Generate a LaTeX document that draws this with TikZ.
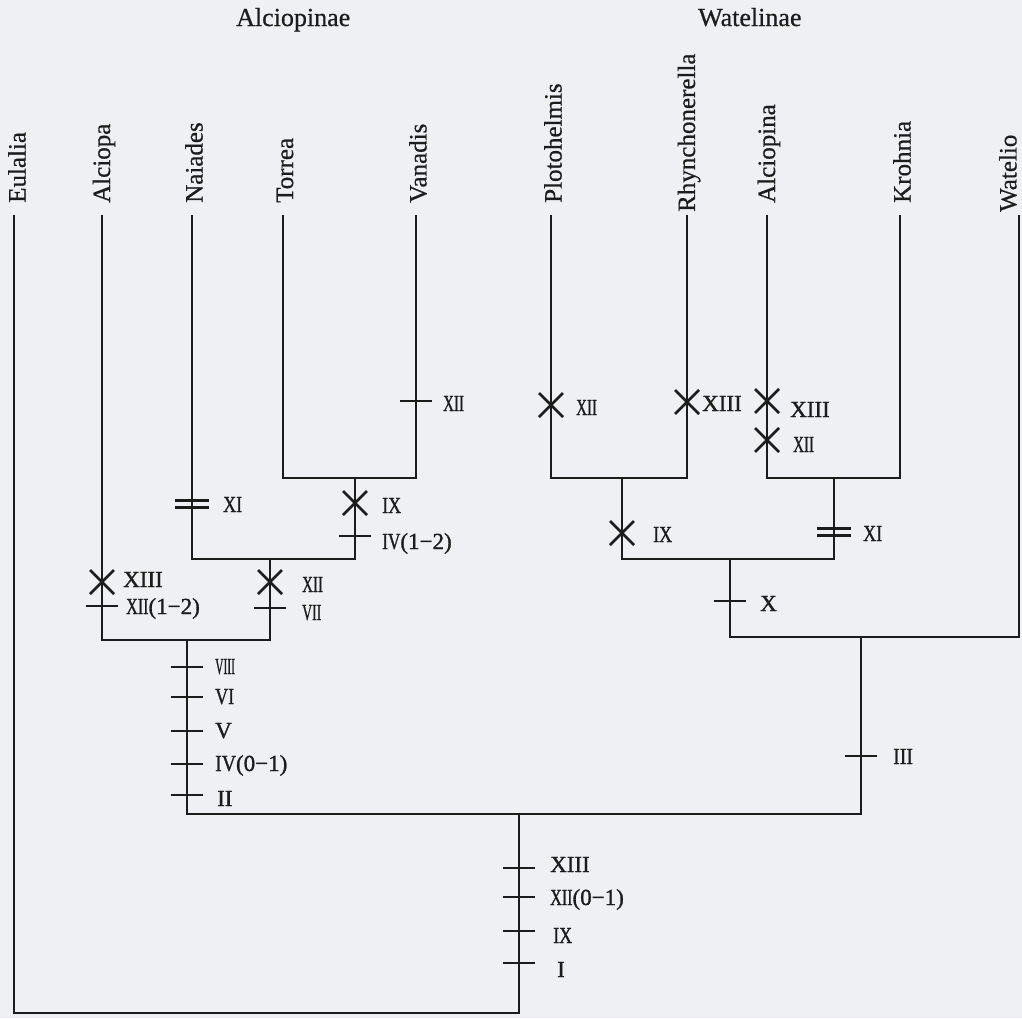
\documentclass[tikz,border=0pt]{standalone}
\usepackage{fontspec}
\setmainfont[FakeBold=0.6]{Liberation Serif}
\newfontfamily\numfont[FakeBold=1.2]{Liberation Serif}
\usepackage{graphicx}
\definecolor{paper}{RGB}{239,240,243}
\definecolor{ink}{RGB}{28,28,28}
\newcommand\nrw[2]{\scalebox{#1}[1]{#2}}
\tikzset{
  br/.style={draw=ink, line width=2.6pt, line join=miter},
  mk/.style={draw=ink, line width=2.6pt},
  taxon/.style={rotate=90, anchor=west, inner sep=0pt, font=\fontsize{25}{30}\selectfont, text=ink},
  grp/.style={anchor=base west, inner sep=0pt, font=\fontsize{26}{30}\selectfont, text=ink},
  chr/.style={anchor=base west, inner sep=0pt, font=\numfont\fontsize{23}{27}\selectfont, text=ink},
  tk/.pic={\draw[mk] (-16,0) -- (16,0);},
  cx/.pic={\draw[mk] (-12,-12) -- (12,12) (-12,12) -- (12,-12);},
  dbl/.pic={\draw[mk] (-17,-3.5) -- (17,-3.5) (-17,3.5) -- (17,3.5);},
}
\begin{document}
\begin{tikzpicture}[x=1pt,y=-1pt]
\fill[paper] (0,0) rectangle (1022,1018);
\useasboundingbox (0,0) rectangle (1022,1018);

% group headings
\node[grp] (gA) at (236,26) {Alciopinae};
\node[grp] (gW) at (698,26) {Watelinae};

% leaves
\coordinate (Eu) at (14,215);
\coordinate (Al) at (102,215);
\coordinate (Na) at (192,215);
\coordinate (To) at (283,215);
\coordinate (Va) at (416,215);
\coordinate (Pl) at (551,215);
\coordinate (Rh) at (687,215);
\coordinate (Ap) at (767,215);
\coordinate (Kr) at (900,215);
\coordinate (Wa) at (1019,215);

\node[taxon] (tEu) at (17,203) {Eulalia};
\node[taxon] (tAl) at (104,203) {Alciopa};
\node[taxon] (tNa) at (194,203) {Naiades};
\node[taxon] (tTo) at (285,203) {Torrea};
\node[taxon] (tVa) at (418,203) {Vanadis};
\node[taxon] (tPl) at (553,203) {Plotohelmis};
\node[taxon] (tRh) at (689,212) {Rhynchonerella};
\node[taxon] (tAp) at (769,203) {Alciopina};
\node[taxon] (tKr) at (902,203) {Krohnia};
\node[taxon] (tWa) at (1008,212) {Watelio};

% junctions
\coordinate (c1) at (355,478);
\coordinate (c2) at (270,559);
\coordinate (c3) at (187,640);
\coordinate (c4) at (622,478);
\coordinate (c5) at (834,478);
\coordinate (c6) at (730,559);
\coordinate (c7) at (861,637);
\coordinate (c8) at (519,814);
\coordinate (rt) at (519,1013);

% branches
\draw[br] (To) |- (c1) -| (Va);
\draw[br] (Na) |- (c2) -| (c1);
\draw[br] (Al) |- (c3) -| (c2);
\draw[br] (Pl) |- (c4) -| (Rh);
\draw[br] (Ap) |- (c5) -| (Kr);
\draw[br] (c4) |- (c6) -| (c5);
\draw[br] (c6) |- (c7) -| (Wa);
\draw[br] (c3) |- (c8) -| (c7);
\draw[br] (Eu) |- (rt) -- (c8);

% character marks: Alciopinae side
\pic at (416,401) {tk};
\node[chr] (m1) at (443,411) {\nrw{0.65}{XII}};
\pic at (355,503) {cx};
\node[chr] (m2) at (382,513) {\nrw{0.78}{IX}};
\pic at (355,536) {tk};
\node[chr] (m3) at (382,549) {\nrw{0.75}{IV}(1−2)};
\pic at (192,504) {dbl};
\node[chr] (m4) at (223,512) {\nrw{0.78}{XI}};
\pic at (270,582) {cx};
\node[chr] (m5) at (302,592) {\nrw{0.65}{XII}};
\pic at (270,608) {tk};
\node[chr] (m6) at (302,620) {\nrw{0.6}{VII}};
\pic at (102,582) {cx};
\node[chr] (m7) at (123,587) {XIII};
\pic at (102,606) {tk};
\node[chr] (m8) at (126,614) {\nrw{0.7}{XII}(1−2)};
\pic at (187,667) {tk};
\node[chr] (m9) at (215,674) {\nrw{0.5}{VIII}};
\pic at (187,697) {tk};
\node[chr] (m10) at (215,704) {\nrw{0.78}{VI}};
\pic at (187,731) {tk};
\node[chr] (m11) at (215,738) {V};
\pic at (187,764) {tk};
\node[chr] (m12) at (215,771) {\nrw{0.86}{IV}(0−1)};
\pic at (187,795) {tk};
\node[chr] (m13) at (217,806) {II};

% root stem
\pic at (519,868) {tk};
\node[chr] (m14) at (550,872) {XIII};
\pic at (519,897) {tk};
\node[chr] (m15) at (550,905) {\nrw{0.7}{XII}(0−1)};
\pic at (519,931) {tk};
\node[chr] (m16) at (553,943) {\nrw{0.78}{IX}};
\pic at (519,963) {tk};
\node[chr] (m17) at (557,977) {I};

% Watelinae side
\pic at (551,405) {cx};
\node[chr] (m18) at (576,415) {\nrw{0.65}{XII}};
\pic at (687,402) {cx};
\node[chr] (m19) at (702,411) {XIII};
\pic at (767,401) {cx};
\node[chr] (m20) at (790,417) {XIII};
\pic at (767,440) {cx};
\node[chr] (m21) at (793,452) {\nrw{0.65}{XII}};
\pic at (622,533) {cx};
\node[chr] (m22) at (653,542) {\nrw{0.78}{IX}};
\pic at (834,532) {dbl};
\node[chr] (m23) at (863,541) {\nrw{0.78}{XI}};
\pic at (730,601) {tk};
\node[chr] (m24) at (760,611) {X};
\pic at (861,756) {tk};
\node[chr] (m25) at (893,764) {\nrw{0.86}{III}};
\end{tikzpicture}
\end{document}
